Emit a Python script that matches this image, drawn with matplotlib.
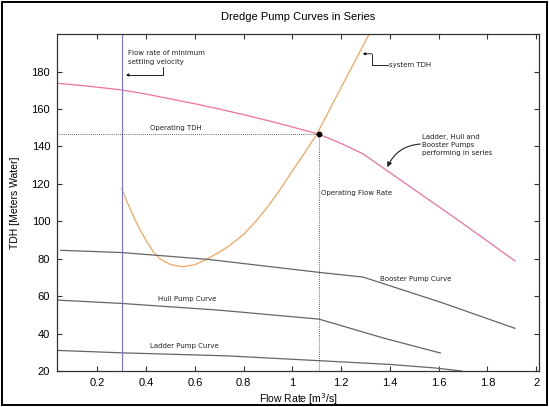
import matplotlib
matplotlib.use("Agg")
from matplotlib import pyplot as plt
from matplotlib.patches import Rectangle

# curves (flow rate m3/s, TDH m water)
series_x = [0.035, 0.15, 0.30, 0.40, 0.50, 0.60, 0.70, 0.80, 0.90, 1.00, 1.11,
            1.20, 1.29, 1.679, 1.913]
series_y = [173.8, 172.4, 170.2, 168.0, 165.4, 162.8, 160.0, 157.0, 153.8, 150.4,
            146.5, 141.6, 136.0, 100.7, 78.8]

system_x = [0.30, 0.32, 0.34, 0.36, 0.38, 0.40, 0.43, 0.46, 0.50, 0.547, 0.60,
            0.649, 0.70, 0.745, 0.80, 0.85, 0.90, 0.95, 1.00, 1.05, 1.10, 1.20, 1.315]
system_y = [117.6, 111.0, 105.0, 99.4, 94.3, 89.8, 83.5, 79.6, 76.9, 75.7, 76.8,
            79.7, 83.5, 87.3, 93.0, 100.0, 108.0, 117.0, 127.0, 136.5, 146.5, 171.5, 200.0]

booster_x = [0.05, 0.30, 0.65, 1.11, 1.29, 1.607, 1.913]
booster_y = [84.5, 83.3, 79.7, 72.7, 70.2, 56.8, 42.8]

hull_x = [0.035, 0.30, 0.70, 1.11, 1.374, 1.607]
hull_y = [57.9, 56.1, 52.5, 47.7, 37.6, 29.6]

ladder_x = [0.035, 0.30, 0.73, 1.11, 1.40, 1.586, 1.694]
ladder_y = [31.0, 29.7, 28.1, 25.5, 23.5, 21.6, 20.0]

min_settling_flow = 0.30
operating_flow = 1.11
operating_tdh = 146.5

x_ticks = [0.2, 0.4, 0.6, 0.8, 1.0, 1.2, 1.4, 1.6, 1.8, 2.0]
x_tick_labels = ["0.2", "0.4", "0.6", "0.8", "1", "1.2", "1.4", "1.6", "1.8", "2"]
y_ticks = [20, 40, 60, 80, 100, 120, 140, 160, 180]

XMIN, XMAX = 0.035, 2.01
YMIN, YMAX = 20, 200

plt.rcParams["font.family"] = ["Liberation Sans", "DejaVu Sans"]

fig = plt.figure(figsize=(5.49, 4.07), dpi=100)
ax = fig.add_axes([0.104, 0.0885, 0.877, 0.8275])

note = dict(fontsize=5, family="DejaVu Sans", color="#222222")

# curves
ax.plot(series_x, series_y, color="#f0709a", lw=0.9)
ax.plot(system_x, system_y, color="#f5a55a", lw=0.9)
ax.plot(booster_x, booster_y, color="#666666", lw=0.9)
ax.plot(hull_x, hull_y, color="#666666", lw=0.9)
ax.plot(ladder_x, ladder_y, color="#666666", lw=0.9)

# minimum settling velocity
ax.axvline(min_settling_flow, color="#7373e6", lw=0.8)

# operating point
ax.plot([XMIN, operating_flow], [operating_tdh, operating_tdh], color="#333333",
        lw=0.6, linestyle=(0, (1, 1.5)))
ax.plot([operating_flow, operating_flow], [YMIN, operating_tdh], color="#333333",
        lw=0.6, linestyle=(0, (1, 1.5)))
ax.plot([operating_flow], [operating_tdh], "o", color="black", ms=3.2, zorder=5)

# labels on the plot
ax.text(0.415, 149.7, "Operating TDH", va="center", ha="left", **note)
ax.text(1.119, 115.0, "Operating Flow Rate", va="center", ha="left", **note)
ax.text(1.359, 69.1, "Booster Pump Curve", va="center", ha="left", **note)
ax.text(0.447, 58.3, "Hull Pump Curve", va="center", ha="left", **note)
ax.text(0.418, 33.5, "Ladder Pump Curve", va="center", ha="left", **note)
ax.text(0.324, 187.6, "Flow rate of minimum\nsettling velocity", va="center",
        ha="left", linespacing=1.5, **note)
ax.text(1.398, 183.6, "system TDH", va="center", ha="left", **note)
ax.text(1.532, 140.8, "Ladder, Hull and\nBooster Pumps\nperforming in series",
        va="center", ha="left", linespacing=1.45, **note)

# arrows
ax.annotate("", xy=(0.317, 178.2), xytext=(0.469, 182.7),
            arrowprops=dict(arrowstyle="-|>", color="black", lw=0.6,
                            mutation_scale=4, shrinkA=0, shrinkB=0,
                            connectionstyle="angle,angleA=90,angleB=0,rad=0"))
ax.annotate("", xy=(1.326, 189.5), xytext=(1.392, 183.6),
            arrowprops=dict(arrowstyle="-", color="black", lw=0.6,
                            shrinkA=0, shrinkB=0,
                            connectionstyle="angle,angleA=0,angleB=90,rad=0"))
ax.annotate("", xy=(1.289, 189.5), xytext=(1.326, 189.5),
            arrowprops=dict(arrowstyle="-|>", color="black", lw=0.6,
                            mutation_scale=4, shrinkA=0, shrinkB=0))
ax.annotate("", xy=(1.39, 128.9), xytext=(1.525, 141.3),
            arrowprops=dict(arrowstyle="-|>", color="#222222", lw=0.8,
                            mutation_scale=7, shrinkA=0, shrinkB=0,
                            connectionstyle="arc3,rad=0.3"))

ax.set_xlim(XMIN, XMAX)
ax.set_ylim(YMIN, YMAX)
ax.set_xticks(x_ticks)
ax.set_xticklabels(x_tick_labels)
ax.set_yticks(y_ticks)
ax.tick_params(direction="in", length=3.5, width=0.8, top=True, right=True,
               labelsize=8, pad=5, color="#333333")
for s in ax.spines.values():
    s.set_linewidth(0.9)
    s.set_color("#333333")

ax.set_title("Dredge Pump Curves in Series", fontsize=8, pad=10)
ax.set_xlabel("Flow Rate [m$^3$/s]", fontsize=7.5, labelpad=2)
ax.set_ylabel("TDH [Meters Water]", fontsize=7.5, labelpad=8)

# frame around the whole figure
fig.patches.append(Rectangle((0.004, 0.004), 0.992, 0.991, transform=fig.transFigure,
                             fill=False, edgecolor="black", lw=1.4))

fig.savefig("out.png", dpi=100)
